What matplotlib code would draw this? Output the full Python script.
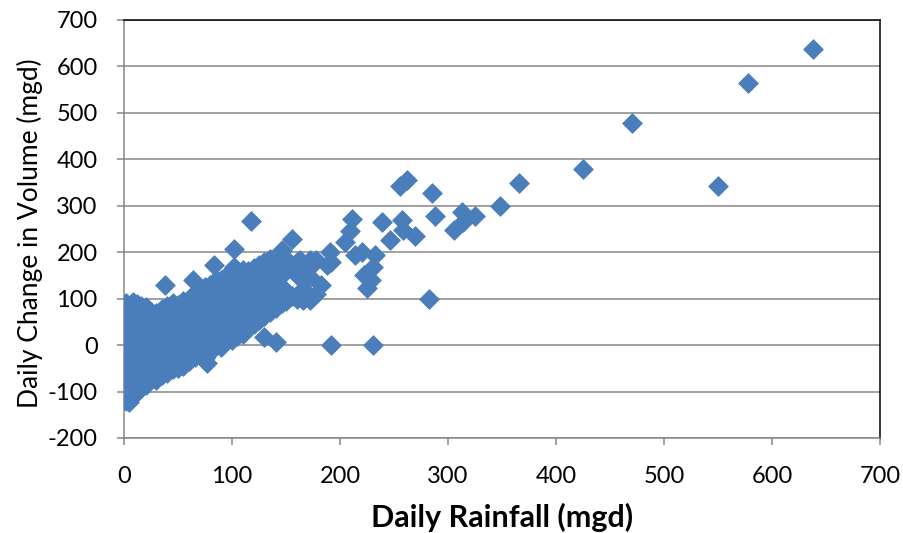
import numpy as np
import matplotlib
matplotlib.use("Agg")
import matplotlib.pyplot as plt

plt.rcParams['font.family'] = ['Lato', 'DejaVu Sans']
plt.rcParams['axes.unicode_minus'] = False

# dense low-rainfall cluster: one rainfall value per column, list of volume changes
col_rain = [0, 2, 5, 8, 12, 16, 20, 25, 30, 35, 38, 40, 45, 50, 55, 60, 64, 66, 70, 75, 77,
            80, 83, 85, 90, 95, 100, 102, 105, 110, 115, 118, 120, 125, 130, 135, 141, 146,
            150, 156, 160, 166, 172, 178]
col_change = [
    [-115, -100, -85, -70, -55, -40, -25, -10, 0, 10, 25, 40, 55, 70, 85],
    [-120, -95, -60, -30, 5, 35, 65, 90],
    [-122, -105, -80, -50, -20, 15, 45, 75],
    [-110, -90, -65, -35, -5, 20, 50, 80, 92],
    [-100, -75, -45, -15, 10, 40, 70, 88],
    [-92, -60, -30, 0, 30, 60, 85],
    [-85, -55, -25, 5, 35, 65, 82],
    [-71, -45, -15, 15, 45, 72],
    [-75, -50, -20, 10, 40, 70],
    [-65, -40, -10, 20, 50, 78],
    [129],
    [-60, -30, 0, 30, 60, 85],
    [-52, -20, 10, 40, 70, 90],
    [-50, -25, 5, 35, 65, 86],
    [-45, -15, 15, 45, 75, 95],
    [-35, -5, 25, 55, 85, 100],
    [140],
    [-25, 5, 35, 65, 95, 112],
    [-20, 10, 40, 70, 100, 120],
    [-28, 0, 30, 60, 90, 125],
    [-38],
    [-15, 15, 45, 75, 105, 130],
    [172],
    [-2, 30, 60, 90, 120, 140],
    [-5, 20, 50, 80, 110, 140],
    [10, 40, 70, 100, 130, 150],
    [12, 45, 75, 105, 135, 160],
    [206, 169],
    [20, 50, 80, 110, 140, 158],
    [25, 60, 90, 120, 150, 162],
    [40, 70, 100, 130, 160],
    [268],
    [45, 75, 105, 135, 165],
    [55, 85, 115, 145, 172],
    [18, 62, 95, 125, 155, 178],
    [72, 105, 135, 165, 185],
    [7, 80, 115, 145, 175],
    [205, 90, 125, 155, 188],
    [95, 115, 160, 185],
    [228, 105, 170],
    [100, 150, 178],
    [97, 120, 160],
    [97, 147, 169, 183],
    [110, 183],
]

# scattered storm days
storm_rain = [163, 182, 188, 192, 191, 205, 209, 211, 214, 220, 222, 225, 229, 231, 232,
              239, 246, 256, 257, 258, 262, 269, 282, 285, 288, 306, 313, 314, 325, 348,
              366, 425, 470, 550, 578, 638, 192, 231]
storm_change = [183, 129, 172, 180, 201, 223, 246, 271, 194, 201, 151, 122, 140, 169, 195,
                264, 226, 342, 269, 248, 355, 235, 99, 327, 279, 248, 287, 266, 278, 299,
                349, 380, 479, 343, 564, 638, 0, 0]

rain = []
change = []
for r, ys in zip(col_rain, col_change):
    for y in ys:
        rain.append(r)
        change.append(y)
rain += storm_rain
change += storm_change

fig = plt.figure(figsize=(9.04, 5.33), dpi=100)
ax = fig.add_axes([124 / 904, 95 / 533, 756 / 904, 418 / 533])

ax.scatter(rain, change, marker='D', s=100, color='#4A7EBB',
           edgecolors='#4A7EBB', linewidths=0.6, zorder=3)

ax.set_xlim(0, 700)
ax.set_ylim(-200, 700)
ax.set_xticks(range(0, 701, 100))
ax.set_yticks(range(-200, 701, 100))

ax.grid(axis='y', color='#868686', linewidth=1.1)
ax.set_axisbelow(True)

for side in ['left', 'bottom']:
    ax.spines[side].set_color('#868686')
    ax.spines[side].set_linewidth(1.1)
for side in ['top', 'right']:
    ax.spines[side].set_color('black')
    ax.spines[side].set_linewidth(1.1)

ax.tick_params(axis='both', direction='out', length=5, width=1.1, color='#868686',
               labelsize=17, labelcolor='black')
ax.tick_params(axis='x', pad=15)
ax.tick_params(axis='y', pad=14)

ax.set_xlabel('Daily Rainfall (mgd)', fontsize=22, fontweight='bold')
ax.set_ylabel('Daily Change in Volume (mgd)', fontsize=19)
ax.xaxis.set_label_coords(0.5, -0.155)
ax.yaxis.set_label_coords(-0.107, 0.49)

fig.savefig('out.png', dpi=100)
